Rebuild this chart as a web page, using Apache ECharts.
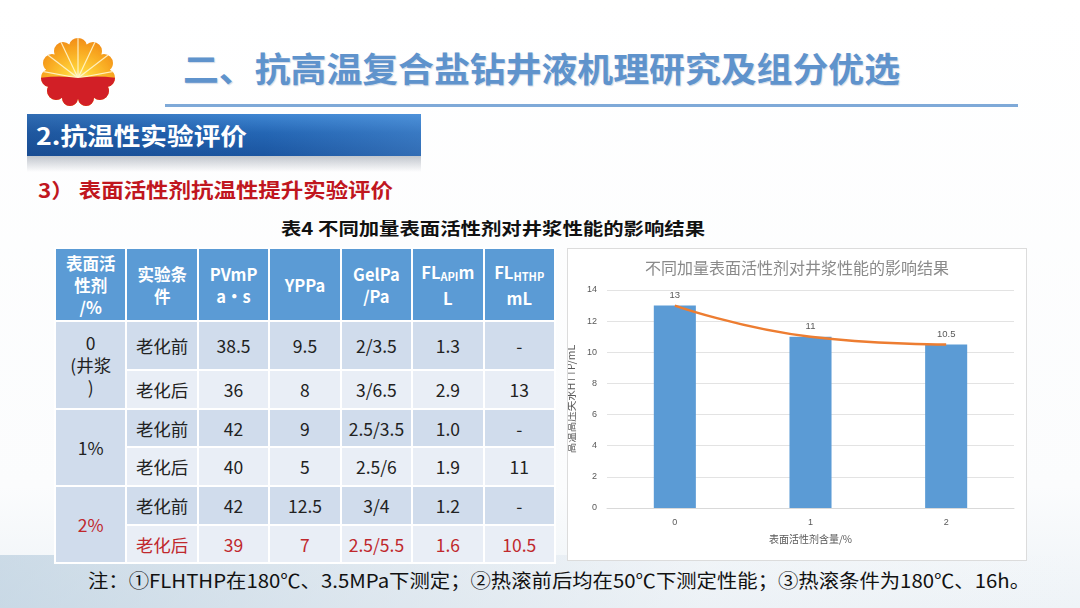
<!DOCTYPE html>
<html><head><meta charset="utf-8">
<script src="https://cdn.jsdelivr.net/npm/echarts@6/dist/echarts.min.js"></script>
<style>
html,body{margin:0;padding:0;width:1080px;height:608px;overflow:hidden;background:#fff;font-family:"Noto Sans CJK SC","Noto Sans",sans-serif;}
#slide{position:absolute;left:0;top:0;width:1080px;height:608px;background:linear-gradient(180deg,#ffffff 0%,#fbfcfd 80%,#eef3f7 100%);}
#bottomimg{position:absolute;left:0;top:555px;width:1080px;height:53px;background:linear-gradient(90deg,rgba(170,195,215,0.55) 0%,rgba(200,215,228,0.45) 35%,rgba(230,236,242,0.25) 65%,rgba(255,255,255,0) 100%);}
.t{position:absolute;white-space:nowrap;transform-origin:0 50%;}
#title{left:183px;top:46px;font-size:34px;line-height:44px;font-weight:700;color:#5f93cc;text-shadow:1px 1px 1px rgba(120,150,190,0.35);}
#hline{position:absolute;left:165px;top:104px;width:853px;height:3px;background:#7ea9d8;}
#banner{position:absolute;left:27px;top:114px;width:394px;height:42px;background:linear-gradient(180deg,#3f86d2 0%,#2466b4 45%,#1b55a0 100%);}
#banner2{position:absolute;left:27px;top:114px;width:394px;height:42px;background:linear-gradient(90deg,rgba(20,60,120,0.35) 0%,rgba(255,255,255,0) 60%,rgba(120,180,240,0.25) 100%);}
#bshadow{position:absolute;left:27px;top:156px;width:394px;height:16px;background:linear-gradient(180deg,rgba(120,130,145,0.45) 0%,rgba(255,255,255,0) 100%);}
#btext{left:36px;top:119px;font-size:24px;line-height:32px;font-weight:700;color:#fff;}
#sub{left:38px;top:176px;font-size:20px;line-height:28px;font-weight:700;color:#c0161e;}
#cap{left:281px;top:216px;font-size:17px;line-height:24px;font-weight:700;color:#111;}
#note{left:88px;top:567px;font-size:19px;line-height:26px;color:#111;}
#tbl{position:absolute;left:54px;top:247px;width:502px;border-collapse:collapse;table-layout:fixed;}
#tbl td{border:2px solid #fff;text-align:center;vertical-align:middle;padding:0;font-size:17.5px;color:#222;}
#tbl tr.h td{background:#5b9bd5;color:#fff;font-weight:700;font-size:16.5px;line-height:22px;height:71px;}
#tbl td sub{font-size:11px;vertical-align:-2px;}
#tbl td.g{background:#d3deed;line-height:22px;}
#tbl tr.a td{background:#d0dcec;}
#tbl tr.b td{background:#e9eef6;}
#tbl tr td.red{color:#c0282d;}
#chartbox{position:absolute;left:567px;top:248px;width:458px;height:311px;border:1px solid #dcdcdc;background:#fff;}
#chart{width:458px;height:311px;}
#logo{position:absolute;left:40px;top:38px;}
</style></head>
<body>
<div id="slide">
<div id="bottomimg"></div>
<svg id="logo" width="76" height="70" viewBox="0 0 76 70">
<defs>
<clipPath id="cp">
<circle cx="38" cy="34" r="27"/>
<circle cx="38" cy="9" r="9"/>
<circle cx="23" cy="13" r="9"/>
<circle cx="53" cy="13" r="9"/>
<circle cx="12" cy="25" r="9"/>
<circle cx="64" cy="25" r="9"/>
<circle cx="10" cy="40" r="9"/>
<circle cx="66" cy="40" r="9"/>
<circle cx="16" cy="53" r="9"/>
<circle cx="60" cy="53" r="9"/>
<circle cx="30" cy="60" r="8"/>
<circle cx="46" cy="60" r="8"/>
</clipPath>
<radialGradient id="sun" cx="0.5" cy="0.62" r="0.7">
<stop offset="0" stop-color="#fff8c8"/>
<stop offset="0.25" stop-color="#ffd23a"/>
<stop offset="0.7" stop-color="#f7a21e"/>
<stop offset="1" stop-color="#ee7f16"/>
</radialGradient>
</defs>
<g clip-path="url(#cp)">
<rect x="0" y="0" width="76" height="70" fill="url(#sun)"/>
<g stroke="#fff6d0" stroke-width="1.2" opacity="0.9">
<line x1="38" y1="40" x2="38" y2="0"/>
<line x1="38" y1="40" x2="20" y2="2"/>
<line x1="38" y1="40" x2="56" y2="2"/>
<line x1="38" y1="40" x2="4" y2="14"/>
<line x1="38" y1="40" x2="72" y2="14"/>
<line x1="38" y1="40" x2="0" y2="33"/>
<line x1="38" y1="40" x2="76" y2="33"/>
</g>
<path d="M0 40 Q20 37 38 40 Q56 37 76 40 L76 70 L0 70 Z" fill="#d21f26"/>
</g>
</svg>
<div id="title" class="t" data-w="717">二、抗高温复合盐钻井液机理研究及组分优选</div>
<div id="hline"></div>
<div id="banner"></div><div id="banner2"></div><div id="bshadow"></div>
<div id="btext" class="t" data-w="211">2.抗温性实验评价</div>
<div id="sub" class="t" data-w="355">3）&nbsp;表面活性剂抗温性提升实验评价</div>
<div id="cap" class="t" data-w="424">表4 不同加量表面活性剂对井浆性能的影响结果</div>
<table id="tbl"></table>
<div id="chartbox"><div id="chart"></div></div>
<div id="note" class="t" data-w="942">注：①FLHTHP在180℃、3.5MPa下测定；②热滚前后均在50℃下测定性能；③热滚条件为180℃、16h。</div>
</div>
<script>
// ---- data ----
var headers = ['表面活<br>性剂<br>/%', '实验条<br>件', 'PVmP<br>a•s', 'YPPa', 'GelPa<br>/Pa', 'FL<sub>API</sub>m<br>L', 'FL<sub>HTHP</sub><br>mL'];
var groups = ['0<br>(井浆<br>)', '1%', '2%'];
var conditions = ['老化前', '老化后'];
var pv = ['38.5', '36', '42', '40', '42', '39'];
var yp = ['9.5', '8', '9', '5', '12.5', '7'];
var gel = ['2/3.5', '3/6.5', '2.5/3.5', '2.5/6', '3/4', '2.5/5.5'];
var flApi = ['1.3', '2.9', '1.0', '1.9', '1.2', '1.6'];
var flHthp = ['-', '13', '-', '11', '-', '10.5'];

var chartTitle = '不同加量表面活性剂对井浆性能的影响结果';
var xCategories = ['0', '1', '2'];
var hthpValues = [13, 11, 10.5];
var xName = '表面活性剂含量/%';
var yName = '高温高压失水HTTP/mL';

// ---- table ----
var rowH = [49, 39, 38, 39, 39, 38];
var html = '<tr class="h">' + headers.map(function(h){return '<td>'+h+'</td>';}).join('') + '</tr>';
for (var i = 0; i < 6; i++) {
  var red = (i === 5) ? ' class="red"' : '';
  html += '<tr class="' + (i % 2 === 0 ? 'a' : 'b') + '" style="height:' + rowH[i] + 'px">';
  if (i % 2 === 0) {
    var gi = i / 2;
    html += '<td rowspan="2" class="g' + (gi === 2 ? ' red' : '') + '">' + groups[gi] + '</td>';
  }
  html += '<td' + red + '>' + conditions[i % 2] + '</td>';
  html += '<td' + red + '>' + pv[i] + '</td>';
  html += '<td' + red + '>' + yp[i] + '</td>';
  html += '<td' + red + '>' + gel[i] + '</td>';
  html += '<td' + red + '>' + flApi[i] + '</td>';
  html += '<td' + red + '>' + flHthp[i] + '</td>';
  html += '</tr>';
}
document.getElementById('tbl').innerHTML = html;

// ---- fit text widths ----
document.querySelectorAll('.t[data-w]').forEach(function(el){
  var w = el.getBoundingClientRect().width;
  var target = parseFloat(el.getAttribute('data-w'));
  if (w > 0) el.style.transform = 'scaleX(' + (target / w) + ')';
});

// ---- chart ----
var chart = echarts.init(document.getElementById('chart'));
var lab = {color:'#595959', fontSize:9, fontFamily:'"Liberation Sans","Noto Sans CJK SC",sans-serif'};
chart.setOption({
  animation:false,
  title:{text:chartTitle, left:'center', top:6, textStyle:{color:'#8a8a8a', fontSize:16, fontWeight:'normal', fontFamily:'"Noto Sans CJK SC",sans-serif'}},
  grid:{left:39, right:12, top:41, bottom:52, containLabel:false, outerBoundsMode:'none'},
  xAxis:{type:'category', data:xCategories, name:xName, nameLocation:'middle', nameGap:26,
    nameTextStyle:{color:'#595959', fontSize:10, fontFamily:'"Noto Sans CJK SC",sans-serif'},
    axisLine:{lineStyle:{color:'#d9d9d9'}}, axisTick:{show:false}, axisLabel:Object.assign({margin:10}, lab)},
  yAxis:{type:'value', min:0, max:14, interval:2, name:yName, nameLocation:'middle', nameGap:29,
    nameTextStyle:{color:'#595959', fontSize:10.5, fontFamily:'"Noto Sans CJK SC",sans-serif'},
    axisLine:{show:false}, axisTick:{show:false}, axisLabel:Object.assign({margin:10}, lab),
    splitLine:{lineStyle:{color:'#e3e3e3'}}},
  series:[
    {type:'bar', data:hthpValues, barWidth:'31%', itemStyle:{color:'#5b9bd5'},
     label:{show:true, position:'top', distance:5, color:'#595959', fontSize:9.5, fontFamily:'"Liberation Sans",sans-serif'}},
    {type:'line', data:hthpValues, smooth:true, symbol:'none', lineStyle:{color:'#ed7d31', width:2.5}, z:5}
  ]
});
</script>
</body></html>
